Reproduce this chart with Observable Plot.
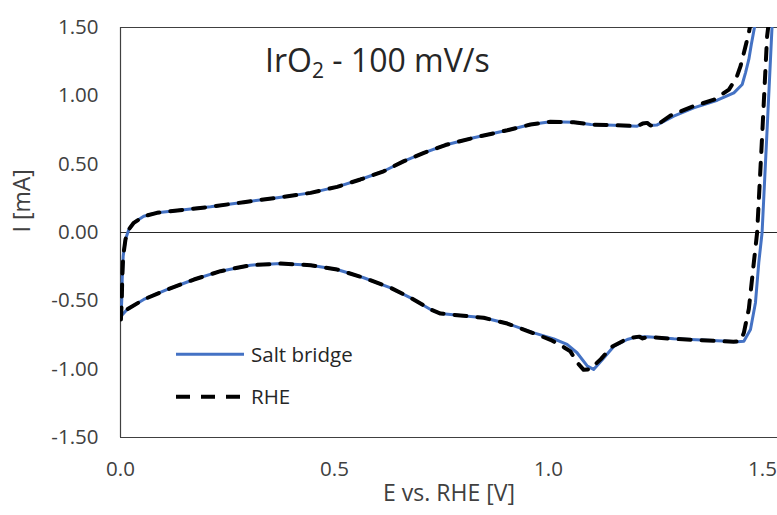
<!DOCTYPE html>
<html>
<head>
<meta charset="utf-8">
<script src="https://cdn.jsdelivr.net/npm/d3@7"></script>
<script src="https://cdn.jsdelivr.net/npm/@observablehq/plot@0.6"></script>
<style>
  html, body { margin: 0; padding: 0; background: #fff; }
  #wrap { position: relative; width: 777px; height: 515px; overflow: hidden; font-family: "Open Sans", sans-serif; }
  #chart { position: absolute; left: 0; top: 0; }
  #title { position: absolute; left: 265px; top: 43.6px; font-size: 32px; line-height: 32px; color: #262626; white-space: nowrap; }
  #title .sub { font-size: 21px; position: relative; top: 6px; }
  #legend { position: absolute; left: 0; top: 0; pointer-events: none; }
</style>
</head>
<body>
<div id="wrap">
  <div id="chart"></div>
  <div id="title">IrO<span class="sub">2</span> - 100 mV/s</div>
  <svg id="legend" width="777" height="515">
    <line x1="176" x2="244" y1="354.3" y2="354.3" stroke="#4472C4" stroke-width="3"/>
    <text x="251" y="361.5" font-family="Open Sans" font-size="20.5" fill="#262626">Salt bridge</text>
    <line x1="176" x2="244" y1="396.7" y2="396.7" stroke="#000" stroke-width="4" stroke-dasharray="14,11"/>
    <text x="251" y="404" font-family="Open Sans" font-size="20.5" fill="#262626">RHE</text>
  </svg>
</div>
<script>
// Series names
const seriesNames = ["Salt bridge", "RHE"];

// Tick values
const xTicks = [0, 0.5, 1.0, 1.5];
const yTicks = [-1.5, -1.0, -0.5, 0, 0.5, 1.0, 1.5];

// Salt bridge: potential E vs. RHE [V] (anodic sweep, then cathodic sweep)
const E_saltBridge = [0.001,0.003,0.004,0.0063,0.0116,0.0194,0.031,0.0543,0.0853,0.1328,0.2104,0.288,0.3665,0.4441,0.5061,0.5604,0.6147,0.6623,0.7088,0.7592,0.8251,0.9037,0.958,1.0045,1.0588,1.0986,1.1529,1.2072,1.2198,1.2305,1.2382,1.2528,1.2925,1.3391,1.3943,1.4331,1.4525,1.4602,1.468,1.4738,1.4816,1.4884,
  1.5233,1.5223,1.5107,1.499,1.4913,1.4835,1.4719,1.4564,1.4409,1.3711,1.2925,1.2305,1.2052,1.1839,1.1529,1.1296,1.1054,1.0908,1.0666,1.0433,1.0123,0.9657,0.9037,0.8484,0.7941,0.7476,0.7243,0.6778,0.6312,0.5682,0.5061,0.4441,0.3743,0.3035,0.2337,0.1716,0.1096,0.0543,0.0155,0.001];
// Salt bridge: current I [mA]
const I_saltBridge = [-0.636,-0.49,-0.344,-0.173,-0.051,0.022,0.071,0.119,0.144,0.161,0.188,0.222,0.254,0.29,0.334,0.388,0.448,0.522,0.583,0.64,0.693,0.748,0.79,0.81,0.807,0.79,0.785,0.778,0.797,0.802,0.783,0.786,0.851,0.912,0.968,1.022,1.083,1.168,1.266,1.375,1.507,1.6,
  1.6,1.51,0.753,0,-0.22,-0.514,-0.71,-0.795,-0.80,-0.788,-0.778,-0.763,-0.764,-0.783,-0.832,-0.917,-1.002,-0.978,-0.88,-0.819,-0.778,-0.734,-0.666,-0.624,-0.607,-0.593,-0.563,-0.478,-0.405,-0.331,-0.271,-0.239,-0.227,-0.239,-0.283,-0.344,-0.417,-0.49,-0.563,-0.612];

// RHE: potential E vs. RHE [V]
const E_rhe = [0.001,0.003,0.004,0.0063,0.0116,0.0194,0.031,0.0543,0.0853,0.1328,0.2104,0.288,0.3665,0.4441,0.5061,0.5604,0.6147,0.6623,0.7088,0.7592,0.8251,0.9037,0.958,1.0045,1.0588,1.0986,1.1529,1.2072,1.2198,1.2305,1.2382,1.2528,1.2848,1.3332,1.3866,1.4215,1.4389,1.4486,1.4593,1.468,1.4709,1.4758,
  1.5155,1.5136,1.5107,1.499,1.4874,1.4797,1.468,1.4564,1.4486,1.4322,1.3711,1.2925,1.2305,1.2198,1.212,1.1984,1.1771,1.1461,1.1228,1.0976,1.0821,1.0666,1.0511,1.0336,1.0045,0.9657,0.9037,0.8484,0.7941,0.7476,0.7243,0.6778,0.6312,0.5682,0.5061,0.4441,0.3743,0.3035,0.2337,0.1716,0.1096,0.0543,0.0155,0.001];
// RHE: current I [mA]
const I_rhe = [-0.636,-0.49,-0.344,-0.173,-0.051,0.022,0.071,0.119,0.144,0.161,0.188,0.222,0.254,0.29,0.334,0.388,0.448,0.522,0.583,0.64,0.693,0.748,0.79,0.81,0.807,0.79,0.785,0.778,0.797,0.802,0.783,0.786,0.855,0.918,0.972,1.046,1.13,1.217,1.35,1.461,1.51,1.6,
  1.6,1.51,1.436,0.7,0,-0.22,-0.56,-0.734,-0.795,-0.80,-0.79,-0.778,-0.765,-0.775,-0.762,-0.768,-0.788,-0.84,-0.925,-1.0,-1.005,-0.95,-0.87,-0.835,-0.785,-0.738,-0.666,-0.624,-0.607,-0.593,-0.563,-0.478,-0.405,-0.331,-0.271,-0.239,-0.227,-0.239,-0.283,-0.344,-0.417,-0.49,-0.563,-0.612];

const sb = E_saltBridge.map((e, i) => ({E: e, I: I_saltBridge[i], series: seriesNames[0]}));
const rhe = E_rhe.map((e, i) => ({E: e, I: I_rhe[i], series: seriesNames[1]}));

const frameColor = "#404040";

const chart = Plot.plot({
  width: 777,
  height: 515,
  marginLeft: 120,
  marginRight: 0,
  marginTop: 27,
  marginBottom: 78,
  style: {fontFamily: "Open Sans", fontSize: "20.5px", color: "#404040", background: "transparent", overflow: "visible"},
  x: {domain: [0, 1.535]},
  y: {domain: [-1.5, 1.5]},
  marks: [
    Plot.axisX({ticks: xTicks, tickFormat: d => d.toFixed(1), tickSize: 0, tickPadding: 24, label: null}),
    Plot.axisY({ticks: yTicks, tickFormat: d => d.toFixed(2), tickSize: 0, tickPadding: 22, label: null}),
    Plot.ruleY([yTicks[0], yTicks[yTicks.length - 1]], {stroke: frameColor, strokeWidth: 1.2}),
    Plot.ruleX([0], {stroke: frameColor, strokeWidth: 1.2}),
    Plot.ruleY([0], {stroke: "#262626", strokeWidth: 1.2}),
    Plot.line(sb, {x: "E", y: "I", stroke: "#4472C4", strokeWidth: 3, clip: true}),
    Plot.line(rhe, {x: "E", y: "I", stroke: "#000", strokeWidth: 4, strokeDasharray: "12,11", clip: true}),
    Plot.text(["E vs. RHE [V]"], {frameAnchor: "bottom", dy: 63, fontSize: 23, fill: "#404040"}),
    Plot.text(["I [mA]"], {frameAnchor: "left", dx: -98, rotate: -90, fontSize: 23, fill: "#404040"})
  ]
});
document.getElementById("chart").appendChild(chart);
</script>
</body>
</html>
